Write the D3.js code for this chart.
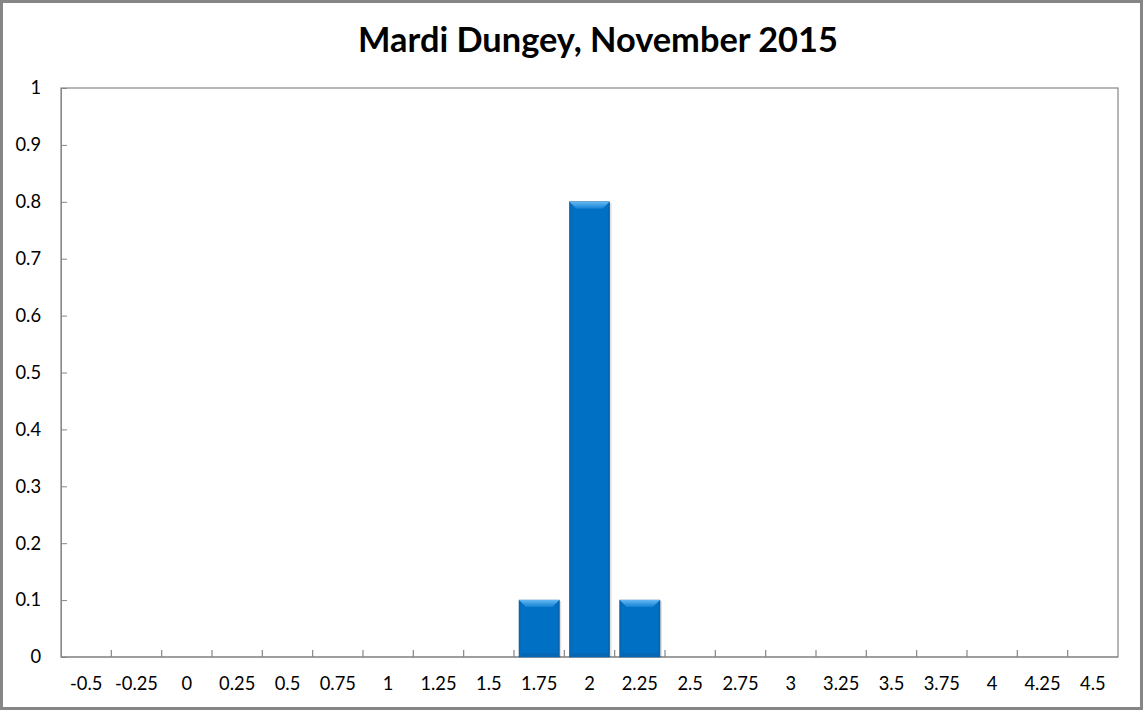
<!DOCTYPE html>
<html><head><meta charset="utf-8">
<script src="https://cdn.jsdelivr.net/npm/d3@7/dist/d3.min.js"></script>
<style>body{margin:0;background:#fff}svg{display:block}</style>
</head><body>
<svg id="c" width="1143" height="710"></svg>
<script>
const title = "Mardi Dungey, November 2015";
const categories = ["-0.5","-0.25","0","0.25","0.5","0.75","1","1.25","1.5","1.75","2","2.25","2.5","2.75","3","3.25","3.5","3.75","4","4.25","4.5"];
const values = [0,0,0,0,0,0,0,0,0,0.1,0.8,0.1,0,0,0,0,0,0,0,0,0];
const yTicks = [0,0.1,0.2,0.3,0.4,0.5,0.6,0.7,0.8,0.9,1];

const svg = d3.select("#c");
const W = 1143, H = 710;
const m = {l:61, t:88, r:1118, b:657};
const font = "Lato, 'Open Sans', sans-serif";

// measure tick font size so "-0.25" is about 43px wide
const probe = svg.append("text").attr("font-family",font).attr("font-size",20).text("-0.25");
const tickFs = 20*43/probe.node().getComputedTextLength();
probe.remove();

svg.append("rect").attr("x",1.5).attr("y",1.5).attr("width",W-3).attr("height",H-3)
  .attr("fill","#fff").attr("stroke","#868686").attr("stroke-width",3);

const defs = svg.append("defs");
const gTop = defs.append("linearGradient").attr("id","gtop").attr("x1",0).attr("y1",0).attr("x2",0).attr("y2",1);
gTop.append("stop").attr("offset","0%").attr("stop-color","#62b8f2");
gTop.append("stop").attr("offset","100%").attr("stop-color","#1480d2");
const gSide = defs.append("linearGradient").attr("id","gside").attr("x1",0).attr("y1",0).attr("x2",1).attr("y2",0);
gSide.append("stop").attr("offset","0%").attr("stop-color","#0a5fa8");
gSide.append("stop").attr("offset","5%").attr("stop-color","#0070c4");
gSide.append("stop").attr("offset","95%").attr("stop-color","#0070c4");
gSide.append("stop").attr("offset","100%").attr("stop-color","#0a5a9e");

const x = d3.scaleBand().domain(categories).range([m.l, m.r]).paddingInner(0.2).paddingOuter(0.1);
const xb = d3.scaleBand().domain(categories).range([m.l, m.r]);
const y = d3.scaleLinear().domain([0,1]).range([m.b, m.t]);

// plot border
svg.append("rect").attr("x",m.l).attr("y",m.t).attr("width",m.r-m.l).attr("height",m.b-m.t)
  .attr("fill","none").attr("stroke","#868686").attr("stroke-width",1.2);

// y axis
const yAxis = svg.append("g").attr("transform",`translate(${m.l},0)`)
  .call(d3.axisRight(y).tickValues(yTicks).tickSize(6).tickFormat(d3.format("~g")));
yAxis.select(".domain").attr("stroke","#868686");
yAxis.selectAll(".tick line").attr("stroke","#868686");
yAxis.selectAll(".tick text").attr("x",-20).attr("text-anchor","end")
  .attr("font-family",font).attr("font-size",tickFs).attr("fill","#000");

// x axis: ticks at category boundaries
const xAxis = svg.append("g").attr("transform",`translate(0,${m.b})`)
  .call(d3.axisBottom(xb).tickSize(0).tickPadding(0));
xAxis.select(".domain").remove();
xAxis.selectAll(".tick line").remove();
xAxis.selectAll(".tick text").attr("y",20).attr("dy","0.71em")
  .attr("font-family",font).attr("font-size",tickFs).attr("fill","#000");
const bounds = categories.slice(1).map(c => xb(c));
svg.append("g").selectAll("line").data(bounds).join("line")
  .attr("x1",d=>d).attr("x2",d=>d).attr("y1",m.b).attr("y2",m.b-7)
  .attr("stroke","#868686").attr("stroke-width",1.2);
svg.append("line").attr("x1",m.l).attr("x2",m.r).attr("y1",m.b).attr("y2",m.b)
  .attr("stroke","#868686").attr("stroke-width",1.2);

// bars
const data = categories.map((c,i)=>({c, v: values[i]})).filter(d=>d.v>0);
const bw = x.bandwidth();
const bars = svg.append("g").selectAll("g").data(data).join("g");
bars.append("rect").attr("x",d=>x(d.c)+2).attr("y",d=>y(d.v)+1).attr("width",bw).attr("height",d=>m.b-y(d.v)-1)
  .attr("fill","#000").attr("opacity",0.12);
bars.append("rect").attr("x",d=>x(d.c)).attr("y",d=>y(d.v)).attr("width",bw).attr("height",d=>m.b-y(d.v))
  .attr("fill","url(#gside)").attr("stroke","#0a5a9e").attr("stroke-width",0.6);
bars.append("path").attr("d",d=>{
    const x0 = x(d.c), x1 = x0+bw, t = y(d.v), b = 7;
    return `M${x0},${t}L${x1},${t}L${x1-b},${t+b}L${x0+b},${t+b}Z`;
  }).attr("fill","url(#gtop)");
bars.append("rect").attr("x",d=>x(d.c)+2).attr("y",m.b-4).attr("width",bw-4).attr("height",3)
  .attr("fill","#0a5fa8").attr("opacity",0.6);

// title
const t = svg.append("text").attr("x",598).attr("y",52).attr("text-anchor","middle")
  .attr("font-family",font).attr("font-weight","bold").attr("font-size",31).attr("fill","#000").text(title);
const len = t.node().getComputedTextLength();
t.attr("font-size", 31*480/len);
</script>
</body></html>
